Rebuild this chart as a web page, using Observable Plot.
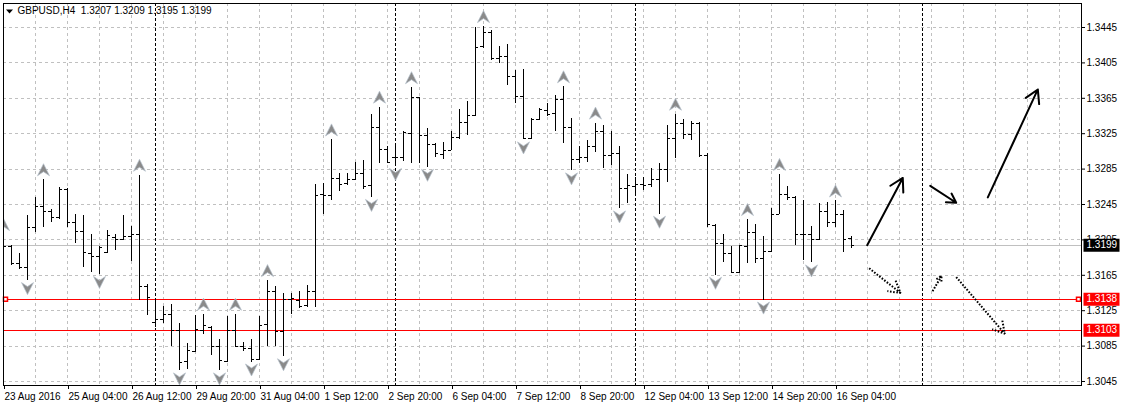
<!DOCTYPE html>
<html><head><meta charset="utf-8">
<script src="https://cdn.jsdelivr.net/npm/d3@7"></script>
<script src="https://cdn.jsdelivr.net/npm/@observablehq/plot@0.6"></script>
<style>
html,body{margin:0;padding:0;background:#fff;}
#chart svg{display:block;}
</style></head><body><div id="chart"></div>
<script>
const symbolName = "GBPUSD,H4";
const opens = [1.3204,1.3197,1.3178,1.3174,1.3219,1.3243,1.3237,1.3230,1.3262,1.3225,1.3214,1.3190,1.3186,1.3191,1.3208,1.3206,1.3209,1.3211,1.3152,1.3112,
1.3115,1.3121,1.3103,1.3068,1.3079,1.3103,1.3106,1.3084,1.3068,1.3103,1.3084,1.3082,1.3070,1.3109,1.3147,1.3101,1.3138,1.3137,1.3131,1.3147,
1.3256,1.3255,1.3274,1.3269,1.3273,1.3280,1.3266,1.3332,1.3307,1.3298,1.3298,1.3325,1.3366,1.3323,1.3313,1.3302,1.3306,1.3321,1.3338,1.3346,
1.3423,1.3439,1.3410,1.3412,1.3390,1.3367,1.3320,1.3341,1.3351,1.3348,1.3364,1.3332,1.3296,1.3298,1.3311,1.3328,1.3300,1.3303,1.3263,1.3265,
1.3268,1.3268,1.3273,1.3285,1.3320,1.3337,1.3324,1.3337,1.3300,1.3221,1.3201,1.3190,1.3168,1.3198,1.3213,1.3184,1.3192,1.3234,1.3256,1.3253,
1.3211,1.3211,1.3205,1.3237,1.3225,1.3234,1.3207];
const highs = [1.3211,1.3199,1.3190,1.3233,1.3253,1.3273,1.3239,1.3264,1.3263,1.3234,1.3233,1.3211,1.3198,1.3216,1.3211,1.3233,1.3220,1.3278,1.3155,1.3138,
1.3130,1.3132,1.3111,1.3088,1.3120,1.3121,1.3107,1.3093,1.3118,1.3121,1.3089,1.3093,1.3118,1.3159,1.3152,1.3144,1.3144,1.3147,1.3153,1.3268,
1.3269,1.3318,1.3280,1.3280,1.3292,1.3295,1.3347,1.3355,1.3311,1.3311,1.3327,1.3377,1.3366,1.3331,1.3314,1.3315,1.3327,1.3352,1.3361,1.3445,
1.3446,1.3442,1.3424,1.3426,1.3396,1.3398,1.3342,1.3354,1.3359,1.3368,1.3378,1.3342,1.3311,1.3317,1.3337,1.3334,1.3327,1.3311,1.3279,1.3275,
1.3275,1.3286,1.3291,1.3334,1.3347,1.3341,1.3339,1.3338,1.3303,1.3222,1.3211,1.3198,1.3199,1.3228,1.3222,1.3209,1.3240,1.3279,1.3265,1.3254,
1.3250,1.3220,1.3246,1.3247,1.3249,1.3238,1.3209];
const lows = [1.3184,1.3176,1.3172,1.3159,1.3213,1.3219,1.3225,1.3228,1.3219,1.3201,1.3174,1.3168,1.3166,1.3190,1.3193,1.3204,1.3181,1.3136,1.3120,1.3106,
1.3111,1.3085,1.3057,1.3059,1.3078,1.3098,1.3074,1.3057,1.3067,1.3084,1.3079,1.3067,1.3069,1.3084,1.3084,1.3073,1.3121,1.3128,1.3129,1.3129,
1.3234,1.3250,1.3260,1.3266,1.3272,1.3262,1.3253,1.3291,1.3291,1.3288,1.3294,1.3291,1.3291,1.3287,1.3298,1.3296,1.3306,1.3318,1.3323,1.3344,
1.3421,1.3408,1.3404,1.3379,1.3359,1.3318,1.3319,1.3340,1.3345,1.3328,1.3314,1.3283,1.3291,1.3292,1.3304,1.3286,1.3289,1.3240,1.3246,1.3254,
1.3261,1.3264,1.3234,1.3270,1.3297,1.3318,1.3317,1.3298,1.3219,1.3165,1.3179,1.3167,1.3167,1.3178,1.3178,1.3137,1.3191,1.3234,1.3250,1.3199,
1.3182,1.3179,1.3204,1.3219,1.3219,1.3191,1.3195];
const closes = [1.3198,1.3178,1.3174,1.3219,1.3243,1.3237,1.3230,1.3262,1.3225,1.3214,1.3191,1.3186,1.3196,1.3210,1.3206,1.3209,1.3211,1.3152,1.3140,1.3115,
1.3121,1.3103,1.3067,1.3080,1.3104,1.3108,1.3084,1.3069,1.3103,1.3084,1.3082,1.3070,1.3108,1.3147,1.3101,1.3138,1.3139,1.3130,1.3147,1.3255,
1.3255,1.3274,1.3268,1.3273,1.3280,1.3265,1.3332,1.3307,1.3293,1.3298,1.3326,1.3366,1.3323,1.3313,1.3303,1.3306,1.3321,1.3338,1.3346,1.3422,
1.3439,1.3410,1.3412,1.3390,1.3367,1.3320,1.3341,1.3352,1.3347,1.3364,1.3332,1.3296,1.3298,1.3311,1.3328,1.3300,1.3303,1.3263,1.3266,1.3268,
1.3267,1.3273,1.3285,1.3320,1.3337,1.3324,1.3337,1.3300,1.3222,1.3201,1.3190,1.3168,1.3199,1.3213,1.3184,1.3192,1.3234,1.3256,1.3253,1.3211,
1.3211,1.3205,1.3237,1.3225,1.3234,1.3206,1.3199];

const fractalUpBars = [1,6,18,26,30,34,42,48,52,61,71,75,85,94,98,105];
const fractalDownBars = [4,13,23,28,32,36,47,50,54,66,72,78,83,90,96,102];

const timeTickBars = [1,9,17,25,33,41,49,57,65,73,81,89,97,105];
const timeLabels = ["23 Aug 2016","25 Aug 04:00","26 Aug 12:00","29 Aug 20:00","31 Aug 04:00","1 Sep 12:00","2 Sep 20:00",
  "6 Sep 04:00","7 Sep 12:00","8 Sep 20:00","12 Sep 04:00","13 Sep 12:00","14 Sep 20:00","16 Sep 04:00"];
const gridBars = d3.range(1, 134, 4);
const priceTicks = [1.3045,1.3085,1.3125,1.3165,1.3205,1.3245,1.3285,1.3325,1.3365,1.3405,1.3445];
const separatorBars = [20, 50, 80, 115.9];

const bidPrice = 1.3199;
const redLevels = [1.3138, 1.3103];
const labelLevels = [1.3199, 1.3138, 1.3103];
const labelColors = ["#000000", "#ff0000", "#ff0000"];

// [startBar, startPrice, endBar, endPrice]
const solidArrows = [[108.96,1.3199,113.41,1.3275],[116.84,1.3266,120.09,1.3247],[124.04,1.3253,130.29,1.3375]];
const dottedArrows = [[109.21,1.3173,113.13,1.3145],[117.13,1.3147,118.25,1.3164],[120.09,1.3163,126.16,1.3099]];

const bars = opens.map((o, i) => ({bar: i + 1, open: o, high: highs[i], low: lows[i], close: closes[i]}));
const last = bars[bars.length - 1];
const titleText = symbolName + "\u00a0 " + [last.open, last.high, last.low, last.close].map(v => v.toFixed(4)).join(" ");

const upArrow = {draw(c){ c.moveTo(0,-6); c.lineTo(6,6); c.lineTo(0,2); c.lineTo(-6,6); c.closePath(); }};
const downArrow = {draw(c){ c.moveTo(0,6); c.lineTo(6,-6); c.lineTo(0,-2); c.lineTo(-6,-6); c.closePath(); }};
const boxSym = {draw(c){ c.rect(-18,-6.5,36,13); }};
const sqSym = {draw(c){ c.rect(-2,-2,4,4); }};
const triSym = {draw(c){ c.moveTo(-3.5,-2); c.lineTo(3.5,-2); c.lineTo(0,2); c.closePath(); }};

const toArrow = a => ({x1: a[0], y1: a[1], x2: a[2], y2: a[3]});
const crisp = {shapeRendering: "crispEdges"};

const chart = Plot.plot({
  width: 1121, height: 407,
  marginLeft: 3, marginRight: 40, marginTop: 3, marginBottom: 22,
  style: {fontFamily: "'Liberation Sans', Arial, sans-serif", fontSize: "10px", color: "#000", background: "#fff"},
  x: {domain: [1, 135.75]},
  y: {domain: [1.304048, 1.347212]},
  marks: [
    Plot.gridX(gridBars, {stroke: "#c0c0c0", strokeOpacity: 1, strokeDasharray: "3,3", ...crisp}),
    Plot.gridY(priceTicks, {stroke: "#c0c0c0", strokeOpacity: 1, strokeDasharray: "3,3", ...crisp}),
    Plot.ruleX(separatorBars, {stroke: "#000", strokeDasharray: "3,2", ...crisp}),
    Plot.ruleY([bidPrice], {stroke: "#c0c0c0", ...crisp}),
    Plot.ruleY(redLevels, {stroke: "#ff0000", ...crisp}),
    Plot.ruleX(bars, {x: "bar", y1: "low", y2: "high", stroke: "#000", ...crisp, clip: true}),
    Plot.ruleY(bars, {y: "open", x1: d => d.bar - 0.375, x2: "bar", stroke: "#000", ...crisp, clip: true}),
    Plot.ruleY(bars, {y: "close", x1: "bar", x2: d => d.bar + 0.375, stroke: "#000", ...crisp, clip: true}),
    Plot.dot(fractalUpBars, {x: d => d, y: d => highs[d - 1], dy: -10, symbol: upArrow, fill: "#8a8a8a", stroke: "#b4c0cc", strokeWidth: 0.7, clip: true}),
    Plot.dot(fractalDownBars, {x: d => d, y: d => lows[d - 1], dy: 8, symbol: downArrow, fill: "#8a8a8a", stroke: "#b4c0cc", strokeWidth: 0.7, clip: true}),
    Plot.arrow(solidArrows.map(toArrow), {x1: "x1", y1: "y1", x2: "x2", y2: "y2", stroke: "#000", strokeWidth: 2, headLength: 11}),
    Plot.arrow(dottedArrows.map(toArrow), {x1: "x1", y1: "y1", x2: "x2", y2: "y2", stroke: "#000", strokeWidth: 2, strokeDasharray: "1.6,1.6", strokeLinecap: "butt", strokeLinejoin: "miter", headLength: 10}),
    Plot.dot([redLevels[0]], {y: d => d, frameAnchor: "left", dx: 2, symbol: sqSym, fill: "#fff", stroke: "#ff0000"}),
    Plot.dot([redLevels[0]], {y: d => d, frameAnchor: "right", dx: -3, symbol: sqSym, fill: "#fff", stroke: "#ff0000"}),
    Plot.frame({stroke: "#000", ...crisp}),
    Plot.axisX(timeTickBars, {tickFormat: (d, i) => timeLabels[i], textAnchor: "start", tickSize: 4, tickPadding: 3, dx: 1, fill: "#000", stroke: "#000"}),
    Plot.axisY(priceTicks, {anchor: "right", tickFormat: d => d.toFixed(4), tickSize: 3, tickPadding: 2, fill: "#000", stroke: "#000"}),
    Plot.dot(labelLevels, {y: d => d, frameAnchor: "right", dx: 20, symbol: boxSym, fill: (d, i) => labelColors[i], stroke: null}),
    Plot.text(labelLevels, {y: d => d, text: d => d.toFixed(4), frameAnchor: "right", dx: 5, textAnchor: "start", fill: "#fff"}),
    Plot.dot([0], {frameAnchor: "top-left", dx: 6, dy: 8, symbol: triSym, fill: "#000"}),
    Plot.text([titleText], {frameAnchor: "top-left", dx: 14, dy: 3, textAnchor: "start", lineAnchor: "top", fill: "#000", fontSize: 10})
  ]
});
document.getElementById("chart").appendChild(chart);
</script>
</body></html>
